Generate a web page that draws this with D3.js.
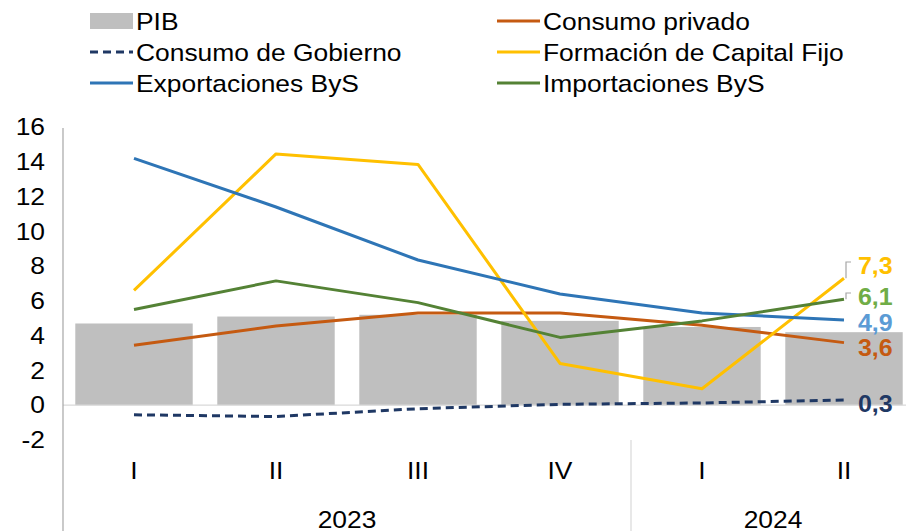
<!DOCTYPE html>
<html><head><meta charset="utf-8">
<script src="https://cdn.jsdelivr.net/npm/d3@7"></script>
<style>body{margin:0;background:#fff}svg{display:block;font-family:"Liberation Sans",Arial,sans-serif}</style>
</head><body>
<svg id="c" width="906" height="531"></svg>
<script>
const quarters = ["I","II","III","IV","I","II"];
const years = [{label:"2023", from:0, to:4},{label:"2024", from:4, to:6}];
const pib = [4.7, 5.1, 5.2, 4.85, 4.5, 4.2];
const consumoPrivado = [3.45, 4.55, 5.3, 5.3, 4.6, 3.6];
const consumoGobierno = [-0.55, -0.65, -0.2, 0.05, 0.13, 0.3];
const fbkf = [6.6, 14.45, 13.85, 2.4, 0.95, 7.3];
const exportaciones = [14.2, 11.4, 8.35, 6.4, 5.3, 4.9];
const importaciones = [5.5, 7.15, 5.9, 3.9, 4.85, 6.1];
const yTicks = [-2,0,2,4,6,8,10,12,14,16];
const endLabels = ["3,6","0,3","7,3","4,9","6,1"];

const series = [
  {name:"Consumo privado", values:consumoPrivado, color:"#C55A11", dash:null, label:endLabels[0], lc:"#C55A11", ly:347},
  {name:"Consumo de Gobierno", values:consumoGobierno, color:"#1F3864", dash:"8,5", label:endLabels[1], lc:"#1F3864", ly:403},
  {name:"Formación de Capital Fijo", values:fbkf, color:"#FFC000", dash:null, label:endLabels[2], lc:"#FFC000", ly:265},
  {name:"Exportaciones ByS", values:exportaciones, color:"#2E75B6", dash:null, label:endLabels[3], lc:"#5B9BD5", ly:322},
  {name:"Importaciones ByS", values:importaciones, color:"#548235", dash:null, label:endLabels[4], lc:"#70AD47", ly:296}
];

const K = 1.1; // horizontal stretch of text
function stretch(sel, k){
  sel.each(function(){
    const t = d3.select(this);
    const x = +t.attr("x") || 0, y = +t.attr("y") || 0;
    t.attr("x",0).attr("y",0).attr("transform",`translate(${x},${y}) scale(${k},1)`);
  });
}

const svg = d3.select("#c");
const x = d3.scaleBand().domain(d3.range(quarters.length)).range([63, 915]).paddingInner(0.173).paddingOuter(0.0865);
const y = d3.scaleLinear().domain([-2, 16]).range([440, 127]);

// bars
svg.append("g").selectAll("rect").data(pib).join("rect")
  .attr("x",(d,i)=>x(i)).attr("width",x.bandwidth())
  .attr("y",d=>y(d)).attr("height",d=>y(0)-y(d)).attr("fill","#BFBFBF");

// zero line
svg.append("line").attr("x1",63).attr("x2",906).attr("y1",y(0)).attr("y2",y(0)).attr("stroke","#D9D9D9").attr("stroke-width",1.3);

// y axis
const ya = svg.append("g").attr("transform","translate(63,0)")
  .call(d3.axisLeft(y).tickValues(yTicks).tickSize(0).tickPadding(18).tickFormat(d=>String(d)));
ya.select(".domain").remove();
ya.selectAll("text").attr("font-size",24).attr("fill","#000").attr("font-family","Liberation Sans, Arial, sans-serif");
stretch(ya.selectAll("text"), K);
svg.append("line").attr("x1",63).attr("x2",63).attr("y1",128).attr("y2",531).attr("stroke","#A6A6A6").attr("stroke-width",1.2);

// x axis labels
const cx = i => x(i) + x.bandwidth()/2;
const ql = svg.append("g").selectAll("text").data(quarters).join("text")
  .attr("x",(d,i)=>cx(i)).attr("y",479).attr("text-anchor","middle").attr("font-size",24).attr("fill","#000").text(d=>d);
stretch(ql, K);
const step = x.step();
const left = x.range()[0];
const yl = svg.append("g").selectAll("text").data(years).join("text")
  .attr("x",d=>left + step*(d.from+d.to)/2).attr("y",528).attr("text-anchor","middle").attr("font-size",24).attr("fill","#000").text(d=>d.label);
stretch(yl, K);
svg.append("g").selectAll("line").data(years.slice(1)).join("line")
  .attr("x1",d=>left+step*d.from).attr("x2",d=>left+step*d.from).attr("y1",440).attr("y2",531)
  .attr("stroke","#D9D9D9").attr("stroke-width",1.2);

// lines
const line = d3.line().x((d,i)=>cx(i)).y(d=>y(d));
svg.append("g").selectAll("path").data(series).join("path")
  .attr("d",d=>line(d.values)).attr("fill","none").attr("stroke",d=>d.color)
  .attr("stroke-width",3).attr("stroke-dasharray",d=>d.dash).attr("stroke-linejoin","round");

// leader lines for 7,3 and 6,1
const lastX = cx(quarters.length-1);
[series[2], series[4]].forEach(s=>{
  const ey = y(s.values[s.values.length-1]);
  svg.append("path").attr("d",`M${lastX+2},${ey} L${lastX+2},${s.ly-3} L${lastX+7},${s.ly-3}`)
    .attr("fill","none").attr("stroke","#A6A6A6").attr("stroke-width",1.2);
});

// end labels
const el = svg.append("g").selectAll("text").data(series).join("text")
  .attr("x",858).attr("y",d=>d.ly+8.6).attr("font-size",24).attr("font-weight","bold")
  .attr("fill",d=>d.lc).text(d=>d.label);
stretch(el, 1.04);

// legend
const legend = [
  {name:"PIB", type:"bar", color:"#BFBFBF", col:0, row:0},
  {name:"Consumo privado", type:"line", color:"#C55A11", col:1, row:0},
  {name:"Consumo de Gobierno", type:"dash", color:"#1F3864", col:0, row:1},
  {name:"Formación de Capital Fijo", type:"line", color:"#FFC000", col:1, row:1},
  {name:"Exportaciones ByS", type:"line", color:"#2E75B6", col:0, row:2},
  {name:"Importaciones ByS", type:"line", color:"#548235", col:1, row:2}
];
const lg = svg.append("g");
legend.forEach(d=>{
  const x0 = d.col===0 ? 90 : 497;
  const yc = 21 + d.row*31;
  if(d.type==="bar") lg.append("rect").attr("x",x0).attr("y",yc-8).attr("width",43).attr("height",16).attr("fill",d.color);
  else lg.append("line").attr("x1",x0).attr("x2",x0+43).attr("y1",yc).attr("y2",yc).attr("stroke",d.color).attr("stroke-width",3)
    .attr("stroke-dasharray",d.type==="dash"?"8,5":null);
  const t = lg.append("text").attr("x",x0+46).attr("y",yc+8.6).attr("font-size",24).attr("fill","#000").text(d.name);
  stretch(t, K);
});
</script>
</body></html>
